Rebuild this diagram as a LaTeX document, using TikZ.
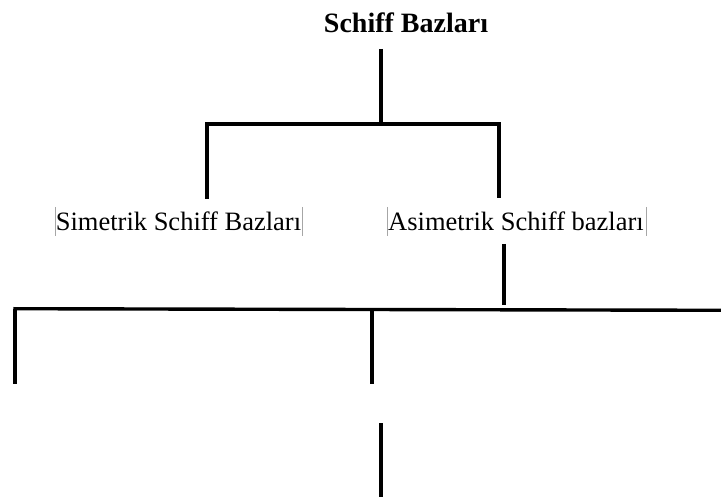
\documentclass[tikz,border=0pt]{standalone}
\usepackage{fontspec}
\setmainfont{Liberation Serif}
\begin{document}
\begin{tikzpicture}[x=1pt,y=-1pt,
  conn/.style={line width=3.4pt,line cap=butt},
  lbl/.style={anchor=base,inner sep=0pt,font=\fontsize{26.5}{30}\selectfont},
  ttl/.style={anchor=base,inner sep=0pt,font=\fontsize{28}{32}\selectfont\bfseries},
  edge/.style={line width=0.6pt,gray!70}]
\useasboundingbox (0,0) rectangle (721,497);
\node[ttl] (title) at (406,33) {Schiff Bazları};
\node[lbl] (sym) at (178.5,231) {Simetrik Schiff Bazları};
\node[lbl] (asym) at (516,231) {Asimetrik Schiff bazları};
% text frame edges
\draw[edge] (55,207) -- (55,236) (302,207) -- (302,236);
\draw[edge] (387,207) -- (387,236) (646,207) -- (646,236);
% coordinates
\coordinate (t1) at (381,49);
\coordinate (j1) at (381,124);
\coordinate (l1) at (205.3,124);
\coordinate (r1) at (500.7,124);
\coordinate (lb) at (207,199);
\coordinate (rb) at (499,198);
\coordinate (s1) at (504,244);
\coordinate (s2) at (504,305);
\coordinate (hl) at (13.3,308.7);
\coordinate (hr) at (721,310.3);
\coordinate (v1t) at (15,308.7);
\coordinate (v1b) at (15,384);
\coordinate (v2t) at (372,309.3);
\coordinate (v2b) at (372,384);
\coordinate (b1) at (381,423);
\coordinate (b2) at (381,497);
% connectors
\draw[conn] (t1) -- (j1);
\draw[conn] (l1) -- (r1);
\draw[conn] (207,124) -- (lb);
\draw[conn] (499,124) -- (rb);
\draw[conn] (s1) -- (s2);
\draw[conn] (hl) -- (hr);
\draw[conn] (v1t) -- (v1b);
\draw[conn] (v2t) -- (v2b);
\draw[conn] (b1) -- (b2);
\end{tikzpicture}
\end{document}
